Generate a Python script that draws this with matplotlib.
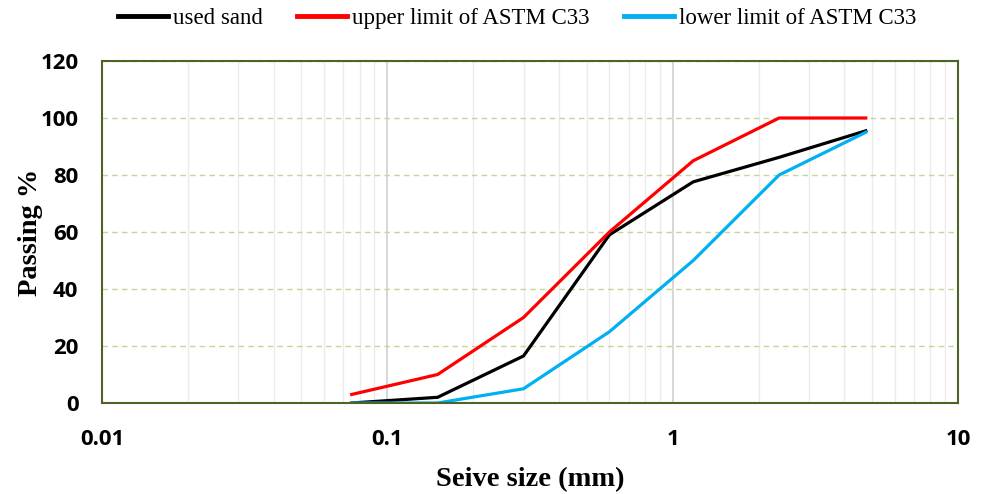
import matplotlib
matplotlib.use("Agg")
import matplotlib.pyplot as plt
from matplotlib.ticker import NullFormatter, LogLocator

sieve_mm = [0.075, 0.15, 0.3, 0.6, 1.18, 2.36, 4.75]
used_sand = [0, 2, 16.5, 59, 77.6, 86.2, 95.5]
upper_limit = [3, 10, 30, 60, 85, 100, 100]
lower_limit = [0, 0, 5, 25, 50, 80, 95]

x_ticks = [0.01, 0.1, 1, 10]
x_tick_labels = ["0.01", "0.1", "1", "10"]
y_ticks = [0, 20, 40, 60, 80, 100, 120]

fig = plt.figure(figsize=(9.83, 4.94), dpi=100)
ax = fig.add_axes([0.1038, 0.1842, 0.8708, 0.6923])

ax.set_xscale("log")
ax.set_xlim(0.01, 10)
ax.set_ylim(0, 120)

ax.xaxis.set_minor_locator(LogLocator(base=10, subs=range(2, 10)))
ax.xaxis.set_minor_formatter(NullFormatter())
ax.grid(which="minor", axis="x", color="#EBEBEB", linewidth=1.0)
ax.grid(which="major", axis="x", color="#D4D4D4", linewidth=1.3)
ax.grid(which="major", axis="y", color="#C4D79B", linewidth=1.0, linestyle=(0, (4, 3)))
ax.set_axisbelow(True)

ax.plot(sieve_mm, used_sand, color="black", linewidth=2.3, label="used sand")
ax.plot(sieve_mm, upper_limit, color="#FF0000", linewidth=2.3, label="upper limit of ASTM C33")
ax.plot(sieve_mm, lower_limit, color="#00B0F0", linewidth=2.3, label="lower limit of ASTM C33")

ax.set_xticks(x_ticks)
ax.set_xticklabels(x_tick_labels)
ax.set_yticks(y_ticks)
ax.tick_params(axis="both", which="both", length=0)
ax.tick_params(axis="y", pad=17)
ax.tick_params(axis="x", pad=19)
for lab in ax.get_xticklabels() + ax.get_yticklabels():
    lab.set_fontfamily("Open Sans")
    lab.set_fontweight("bold")
    lab.set_fontsize(16)

for sp in ax.spines.values():
    sp.set_color("#4F6228")
    sp.set_linewidth(1.5)

ax.set_xlabel("Seive size (mm)", fontfamily="Liberation Serif", fontweight="bold", fontsize=20.5, labelpad=12)
ax.set_ylabel("Passing %", fontfamily="Liberation Serif", fontweight="bold", fontsize=20.5, labelpad=-2)

leg = fig.legend(loc="center", bbox_to_anchor=(0.526, 0.962), ncol=3, frameon=False,
                 prop={"family": "Liberation Serif", "size": 16.5}, handlelength=2.2,
                 handletextpad=0.2, columnspacing=1.5)
for h in leg.get_lines():
    h.set_linewidth(3.5)

fig.savefig("out.png", dpi=100)
